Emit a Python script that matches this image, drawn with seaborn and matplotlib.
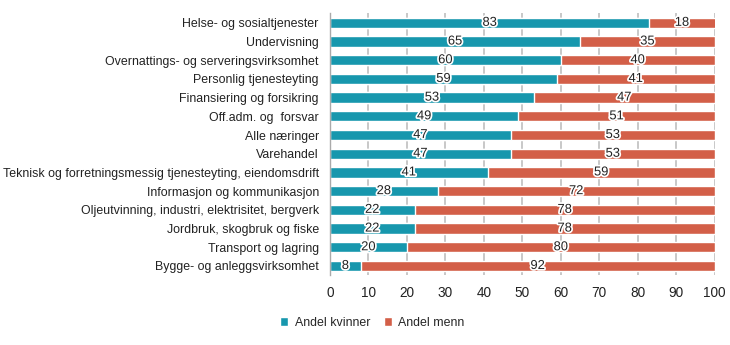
import matplotlib
matplotlib.use("Agg")
import matplotlib.pyplot as plt
import matplotlib.patheffects as pe
from matplotlib.patches import Patch
import seaborn as sns
import pandas as pd
import numpy as np

categories = [
    "Helse- og sosialtjenester",
    "Undervisning",
    "Overnattings- og serveringsvirksomhet",
    "Personlig tjenesteyting",
    "Finansiering og forsikring",
    "Off.adm. og  forsvar",
    "Alle næringer",
    "Varehandel",
    "Teknisk og forretningsmessig tjenesteyting, eiendomsdrift",
    "Informasjon og kommunikasjon",
    "Oljeutvinning, industri, elektrisitet, bergverk",
    "Jordbruk, skogbruk og fiske",
    "Transport og lagring",
    "Bygge- og anleggsvirksomhet",
]
kvinner = [83, 65, 60, 59, 53, 49, 47, 47, 41, 28, 22, 22, 20, 8]
menn = [18, 35, 40, 41, 47, 51, 53, 53, 59, 72, 78, 78, 80, 92]
x_ticks = [0, 10, 20, 30, 40, 50, 60, 70, 80, 90, 100]

TEAL = "#1797ad"
RED = "#d35f48"

sns.set_style("white")
plt.rcParams["font.family"] = ["Liberation Sans", "DejaVu Sans"]

df = pd.DataFrame({"kategori": categories, "kvinner": kvinner, "menn": menn})
df["total"] = df["kvinner"] + df["menn"]

fig = plt.figure(figsize=(7.3, 3.45), dpi=100)
ax = fig.add_axes([0.452, 0.202, 0.527, 0.759])

sns.barplot(data=df, y="kategori", x="total", color=RED, saturation=1,
            width=0.55, ax=ax, orient="h")
sns.barplot(data=df, y="kategori", x="kvinner", color=TEAL, saturation=1,
            width=0.55, ax=ax, orient="h")

n = len(categories)
stroke = [pe.withStroke(linewidth=2.5, foreground="white")]
for i in range(n):
    k = kvinner[i]
    m = menn[i]
    ax.text(k / 2, i, f"{k}", ha="center", va="center", fontsize=9.3,
            color="#222222", path_effects=stroke, zorder=5)
    mc = (k + min(k + m, 100)) / 2
    ax.text(mc, i, f"{m}", ha="center", va="center", fontsize=9.3,
            color="#222222", path_effects=stroke, zorder=5)

ax.set_xlim(0, 100)
ax.set_ylim(n - 0.5, -0.5)
ax.set_xticks(x_ticks)
ax.set_xticklabels([str(t) for t in x_ticks], fontsize=9.8, color="#222222")
ax.set_xlabel("")
ax.set_ylabel("")
ax.tick_params(axis="y", labelsize=8.9, length=0, pad=8, labelcolor="#222222")
ax.tick_params(axis="x", length=0, pad=8)
ax.set_yticks(np.arange(-0.5, n, 1), minor=True)
ax.tick_params(axis="y", which="minor", length=4, color="#aaaaaa", width=1)

ax.grid(axis="x", color="#c4c4c4", linewidth=1.3)
ax.set_axisbelow(True)
for s in ["top", "right", "bottom"]:
    ax.spines[s].set_visible(False)
ax.spines["left"].set_color("#aaaaaa")
ax.spines["left"].set_linewidth(1)
ax.spines["left"].set_zorder(6)

handles = [Patch(facecolor=TEAL, label="Andel kvinner"),
           Patch(facecolor=RED, label="Andel menn")]
fig.legend(handles=handles, loc="center", bbox_to_anchor=(0.51, 0.064), ncol=2,
           frameon=False, fontsize=8.9, handlelength=0.65, handleheight=0.65,
           handletextpad=0.5, columnspacing=1.1)

fig.savefig("out.png", dpi=100)
